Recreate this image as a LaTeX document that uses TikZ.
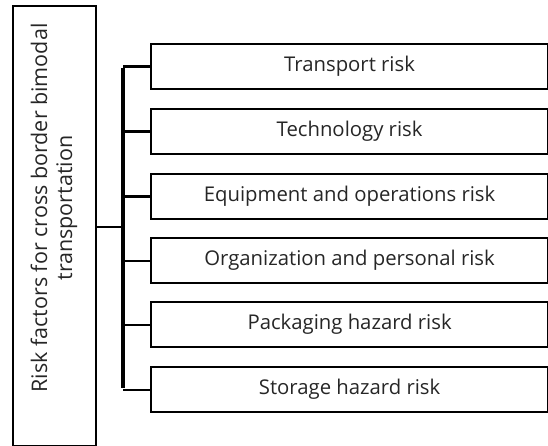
\documentclass[tikz,border=0pt]{standalone}
\usepackage{fontspec}
\setmainfont{Open Sans}
\begin{document}
\begin{tikzpicture}[x=1pt,y=-1pt,
  frame/.style={draw=black,line width=2.2pt,rectangle,inner sep=0pt},
  riskbox/.style={frame,minimum width=397pt,minimum height=45pt,anchor=north west,
    font=\fontsize{20.3}{24}\selectfont,text=black!85},
  link/.style={draw=black,line width=2.2pt},
  trunk/.style={draw=black,line width=3.2pt}]
\useasboundingbox (0,0) rectangle (548,446);
% root box with vertical caption
\node[frame,minimum width=83pt,minimum height=440pt,anchor=north west] (root) at (12,5) {};
\node[rotate=90,align=center,font=\fontsize{21.5}{25}\selectfont,text=black!85] (cap) at (54,208)
  {Risk factors for cross border bimodal\\transportation};
% risk categories
\node[riskbox] (r1) at (150,43) {Transport risk};
\node[riskbox] (r2) at (150,108) {Technology risk};
\node[riskbox] (r3) at (150,173) {Equipment and operations risk};
\node[riskbox] (r4) at (150,237) {Organization and personal risk};
\node[riskbox] (r5) at (150,301) {Packaging hazard risk};
\node[riskbox] (r6) at (150,366) {Storage hazard risk};
% connectors
\coordinate (t1) at (123,0 |- r1.west);
\coordinate (t6) at (123,0 |- r6.west);
\coordinate (hub) at (123,227);
\draw[trunk] ([yshift=-1.6pt]t1) -- ([yshift=1.6pt]t6);
\draw[link] (root.east |- hub) -- (hub);
\foreach \i in {1,...,6}{
  \draw[link] (123,0 |- r\i.west) -- (r\i.west);
}
\end{tikzpicture}
\end{document}
